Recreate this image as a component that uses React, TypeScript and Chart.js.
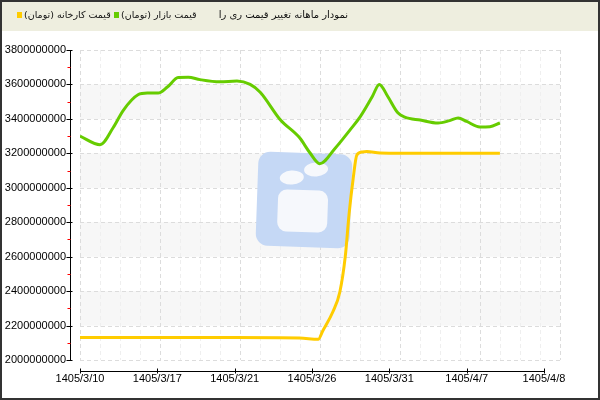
import React, { useEffect, useRef } from "react";
import { Chart, registerables } from "chart.js";

Chart.register(...registerables);

const titleText = "نمودار ماهانه تغییر قیمت ری را";
const seriesNames = ["قیمت بازار (تومان)", "قیمت کارخانه (تومان)"];
const seriesColors = ["#66cc00", "#ffcc00"];

const xTickLabels = ["1405/3/10", "1405/3/17", "1405/3/21", "1405/3/26", "1405/3/31", "1405/4/7", "1405/4/8"];
const yTickValues = [2000000000, 2200000000, 2400000000, 2600000000, 2800000000, 3000000000, 3200000000, 3400000000, 3600000000, 3800000000];

// positions along the date axis (in tick-interval units)
const marketX = [0, 0.26, 0.43, 0.56, 0.75, 0.87, 1.01, 1.13, 1.27, 1.4, 1.55, 1.81, 2.03, 2.2, 2.33, 2.59, 2.84, 2.97, 3.1, 3.3, 3.49, 3.62, 3.78, 3.87, 3.98, 4.11, 4.2, 4.4, 4.63, 4.78, 4.89, 5.0, 5.17, 5.3, 5.43];
const marketM = [3300, 3250, 3350, 3450, 3540, 3550, 3550, 3585, 3640, 3642, 3628, 3615, 3620, 3600, 3555, 3395, 3290, 3205, 3140, 3230, 3335, 3410, 3530, 3600, 3530, 3435, 3410, 3393, 3376, 3390, 3405, 3385, 3353, 3355, 3376];

const factoryX = [0, 1, 2, 2.84, 3.08, 3.14, 3.27, 3.36, 3.43, 3.48, 3.53, 3.58, 3.65, 3.71, 3.88, 4.5, 5.43];
const factoryM = [2130, 2130, 2130, 2128, 2120, 2170, 2280, 2395, 2600, 2850, 3045, 3190, 3208, 3210, 3202, 3200, 3200];

const FONT = "'Liberation Sans', Arial, sans-serif";

const decor = {
  id: "decor",
  beforeDatasetsDraw(chart: any) {
    const { ctx, chartArea, scales } = chart;
    const { left, right, top, bottom } = chartArea;
    const y = scales.y;
    ctx.save();
    ctx.fillStyle = "#f7f7f7";
    for (let i = 1; i < yTickValues.length - 1; i += 2) {
      const y1 = y.getPixelForValue(yTickValues[i]);
      const y2 = y.getPixelForValue(yTickValues[i + 1]);
      ctx.fillRect(left, y2, right - left, y1 - y2);
    }
    ctx.lineWidth = 1;
    ctx.setLineDash([4, 3]);
    let k = 0;
    for (let x = left; x <= right + 0.5; x += 20, k++) {
      ctx.strokeStyle = k % 4 === 0 ? "#dcdcdc" : "#efefef";
      ctx.beginPath();
      ctx.moveTo(Math.round(x) + 0.5, top);
      ctx.lineTo(Math.round(x) + 0.5, bottom);
      ctx.stroke();
    }
    ctx.strokeStyle = "#dcdcdc";
    yTickValues.forEach((v) => {
      const py = Math.round(y.getPixelForValue(v)) + 0.5;
      ctx.beginPath();
      ctx.moveTo(left, py);
      ctx.lineTo(right, py);
      ctx.stroke();
    });
    ctx.setLineDash([]);

    // watermark
    const cx = left + 224;
    const cy = top + 150;
    ctx.translate(cx, cy);
    ctx.rotate(0.035);
    ctx.fillStyle = "#c5d8f5";
    ctx.beginPath();
    ctx.roundRect(-47, -47, 94, 94, 12);
    ctx.fill();
    ctx.fillStyle = "#f6f8fc";
    ctx.beginPath();
    ctx.ellipse(-13, -22, 12, 7, -0.1, 0, Math.PI * 2);
    ctx.fill();
    ctx.beginPath();
    ctx.ellipse(11, -31, 12, 7, -0.1, 0, Math.PI * 2);
    ctx.fill();
    ctx.beginPath();
    ctx.roundRect(-26, -10, 50, 42, 9);
    ctx.fill();
    ctx.restore();
  },
  afterDraw(chart: any) {
    const { ctx, chartArea, scales } = chart;
    const { left, top, bottom } = chartArea;
    const x = scales.x;
    const y = scales.y;
    ctx.save();
    ctx.lineWidth = 1;
    const ax = Math.round(left - 10) + 0.5;
    ctx.strokeStyle = "#000";
    ctx.beginPath();
    ctx.moveTo(ax, top);
    ctx.lineTo(ax, bottom + 1);
    ctx.stroke();
    yTickValues.forEach((v, i) => {
      const py = Math.round(y.getPixelForValue(v)) + 0.5;
      ctx.strokeStyle = "#000";
      ctx.beginPath();
      ctx.moveTo(ax - 4, py);
      ctx.lineTo(ax + 2, py);
      ctx.stroke();
      if (i < yTickValues.length - 1) {
        const pm = Math.round(y.getPixelForValue((v + yTickValues[i + 1]) / 2)) + 0.5;
        ctx.strokeStyle = "#ff0000";
        ctx.beginPath();
        ctx.moveTo(ax - 3, pm);
        ctx.lineTo(ax, pm);
        ctx.stroke();
      }
    });
    const ay = Math.round(bottom + 11) + 0.5;
    ctx.strokeStyle = "#000";
    ctx.beginPath();
    ctx.moveTo(x.getPixelForValue(0), ay);
    ctx.lineTo(x.getPixelForValue(xTickLabels.length - 1) + 1, ay);
    ctx.stroke();
    xTickLabels.forEach((_, i) => {
      const px = Math.round(x.getPixelForValue(i)) + 0.5;
      ctx.beginPath();
      ctx.moveTo(px, ay - 3);
      ctx.lineTo(px, ay + 2);
      ctx.stroke();
    });
    ctx.restore();
  },
};

export default function App() {
  const ref = useRef<HTMLCanvasElement | null>(null);
  useEffect(() => {
    document.body.style.margin = "0";
    const canvas = ref.current;
    if (!canvas) return;
    const chart = new Chart(canvas, {
      type: "line",
      data: {
        datasets: [
          {
            label: seriesNames[0],
            data: marketX.map((v, i) => ({ x: v, y: marketM[i] * 1000000 })),
            borderColor: seriesColors[0],
            backgroundColor: seriesColors[0],
            borderWidth: 3,
            pointRadius: 0,
            cubicInterpolationMode: "monotone",
            fill: false,
          },
          {
            label: seriesNames[1],
            data: factoryX.map((v, i) => ({ x: v, y: factoryM[i] * 1000000 })),
            borderColor: seriesColors[1],
            backgroundColor: seriesColors[1],
            borderWidth: 3,
            pointRadius: 0,
            cubicInterpolationMode: "monotone",
            fill: false,
          },
        ],
      },
      options: {
        responsive: false,
        animation: false,
        layout: { padding: { top: 50, right: 40, left: 0, bottom: 0 } },
        plugins: {
          legend: { display: false },
          title: { display: false },
          tooltip: { enabled: false },
        },
        scales: {
          x: {
            type: "linear",
            min: 0,
            max: ((xTickLabels.length - 1) * 480) / 464,
            afterBuildTicks: (s: any) => {
              s.ticks = xTickLabels.map((_, i) => ({ value: i }));
            },
            afterFit: (s: any) => {
              s.height = 40;
            },
            ticks: {
              callback: (v: any) => xTickLabels[Math.round(Number(v))],
              font: { family: FONT, size: 11 },
              color: "#000",
              padding: 12,
              maxRotation: 0,
              autoSkip: false,
            },
            grid: { display: false, drawTicks: false },
            border: { display: false },
          },
          y: {
            min: yTickValues[0],
            max: yTickValues[yTickValues.length - 1],
            afterBuildTicks: (s: any) => {
              s.ticks = yTickValues.map((v) => ({ value: v }));
            },
            afterFit: (s: any) => {
              s.width = 80;
            },
            ticks: {
              callback: (v: any) => String(v),
              font: { family: FONT, size: 11 },
              color: "#000",
              padding: 14,
              autoSkip: false,
            },
            grid: { display: false, drawTicks: false },
            border: { display: false },
          },
        },
      } as any,
      plugins: [decor],
    });
    return () => chart.destroy();
  }, []);

  const txt: React.CSSProperties = {
    fontFamily: "'DejaVu Sans', sans-serif",
    fontSize: 9.5,
    lineHeight: "14px",
    direction: "rtl",
    whiteSpace: "nowrap",
    color: "#111",
  };
  const item = (left: number, i: number) => (
    <div style={{ position: "absolute", left, top: 8, display: "flex", alignItems: "center", gap: 2, direction: "ltr" }}>
      <span style={{ display: "inline-block", width: 5, height: 6, background: seriesColors[i] }} />
      <span style={txt}>{seriesNames[i]}</span>
    </div>
  );
  return (
    <div style={{ position: "relative", width: 600, height: 400, background: "#fff", overflow: "hidden" }}>
      <div style={{ position: "absolute", left: 0, top: 0, width: 600, height: 31, background: "#eeeedf" }} />
      <canvas ref={ref} width={600} height={400} style={{ position: "absolute", left: 0, top: 0, width: 600, height: 400 }} />
      <span style={{ ...txt, position: "absolute", top: 8, right: 252, fontSize: 10 }}>{titleText}</span>
      {item(114, 0)}
      {item(17, 1)}
      <div style={{ position: "absolute", left: 0, top: 0, width: 600, height: 400, boxSizing: "border-box", border: "2px solid #333", pointerEvents: "none" }} />
    </div>
  );
}
